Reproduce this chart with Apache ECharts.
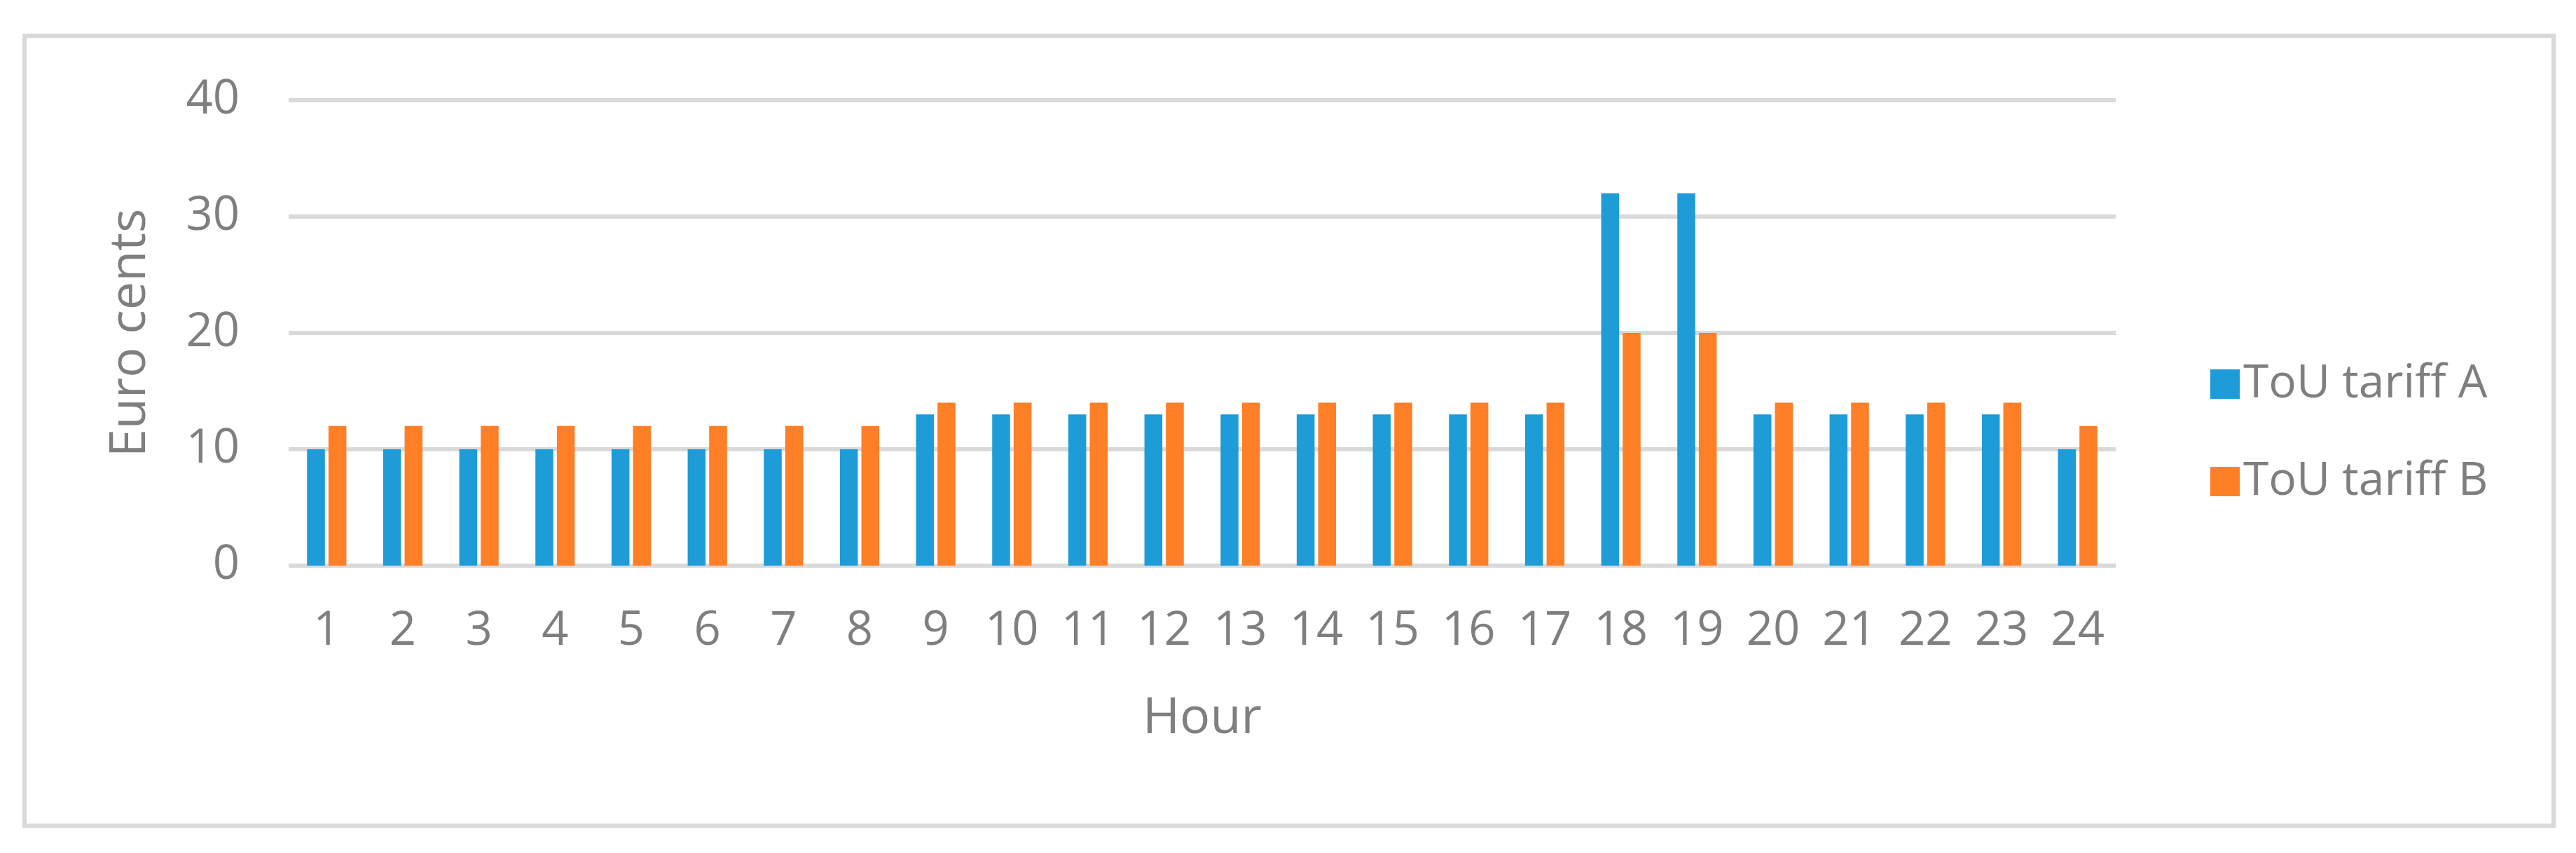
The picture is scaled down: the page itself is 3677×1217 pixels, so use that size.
<!DOCTYPE html>
<html>
<head>
<meta charset="utf-8">
<title>ToU tariffs</title>
<script src="https://cdn.jsdelivr.net/npm/echarts@6/dist/echarts.min.js"></script>
<style>
  html, body { margin: 0; padding: 0; background: #fff; }
  #chart { width: 3677px; height: 1217px; }
</style>
</head>
<body>
<div id="chart"></div>
<script>
// hours of the day
var hours = ['1', '2', '3', '4', '5', '6', '7', '8', '9', '10', '11', '12',
  '13', '14', '15', '16', '17', '18', '19', '20', '21', '22', '23', '24'];
// euro cents per hour
var tariffA = [10, 10, 10, 10, 10, 10, 10, 10, 13, 13, 13, 13,
  13, 13, 13, 13, 13, 32, 32, 13, 13, 13, 13, 10];
var tariffB = [12, 12, 12, 12, 12, 12, 12, 12, 14, 14, 14, 14,
  14, 14, 14, 14, 14, 20, 20, 14, 14, 14, 14, 12];
var yTicks = [0, 10, 20, 30, 40];

var textColor = '#7f7f7f';
var lineColor = '#d9d9d9';
var font = 'Open Sans';

var myChart = echarts.init(document.getElementById('chart'), null, { renderer: 'canvas' });

var option = {
  animation: false,
  backgroundColor: '#fff',
  textStyle: { fontFamily: font },
  graphic: [
    {
      // outer frame
      type: 'rect',
      shape: { x: 35, y: 51, width: 3610, height: 1127 },
      style: { fill: 'none', stroke: lineColor, lineWidth: 6 },
      silent: true
    }
  ],
  grid: {
    left: 412,
    right: 657,
    top: 143,
    bottom: 410
  },
  legend: {
    orient: 'vertical',
    left: 3150,
    top: 510,
    itemWidth: 42,
    itemHeight: 42,
    itemGap: 73,
    itemTextGap: 17,
    icon: 'rect',
    textStyle: {
      color: textColor,
      fontSize: 66,
      lineHeight: 66,
      fontFamily: font
    },
    data: ['ToU tariff A', 'ToU tariff B']
  },
  xAxis: {
    type: 'category',
    data: hours,
    name: 'Hour',
    nameLocation: 'middle',
    nameGap: 182,
    nameTextStyle: { color: textColor, fontSize: 72, fontFamily: font },
    axisLine: { show: false },
    axisTick: { show: false },
    axisLabel: {
      color: textColor,
      fontSize: 67,
      margin: 60,
      interval: 0   // show every hour
    }
  },
  yAxis: {
    type: 'value',
    min: yTicks[0],
    max: yTicks[yTicks.length - 1],
    interval: 10,
    name: 'Euro cents',
    nameLocation: 'middle',
    nameRotate: 90,
    nameGap: 190,
    nameTextStyle: { color: textColor, fontSize: 72, fontFamily: font },
    axisLine: { show: false },
    axisTick: { show: false },
    axisLabel: {
      color: textColor,
      fontSize: 67,
      margin: 70
    },
    splitLine: {
      lineStyle: { color: lineColor, width: 6 }
    }
  },
  series: [
    {
      name: 'ToU tariff A',
      type: 'bar',
      data: tariffA,
      barWidth: '23.5%',
      barGap: '20%',
      itemStyle: { color: '#1d9cd8' }
    },
    {
      name: 'ToU tariff B',
      type: 'bar',
      data: tariffB,
      barWidth: '23.5%',
      barGap: '20%',
      itemStyle: { color: '#ff7f27' }
    }
  ]
};

myChart.setOption(option);
</script>
</body>
</html>
